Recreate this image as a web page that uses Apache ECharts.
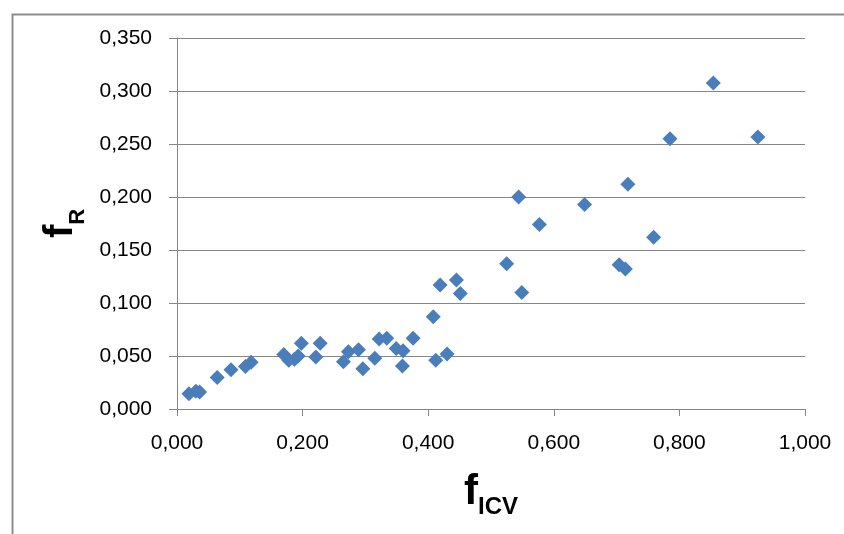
<!DOCTYPE html>
<html><head><meta charset="utf-8">
<script src="https://cdn.jsdelivr.net/npm/echarts@6/dist/echarts.min.js"></script>
<style>html,body{margin:0;padding:0;background:#fff}#c{width:844px;height:534px}</style>
</head><body><div id="c"></div>
<script>
const fICV = [0.019,0.030,0.036,0.064,0.086,0.109,0.118,0.170,0.178,0.187,0.193,0.198,0.221,0.228,0.265,0.273,0.289,0.296,0.315,0.322,0.334,0.349,0.360,0.359,0.376,0.408,0.412,0.419,0.430,0.445,0.451,0.525,0.544,0.549,0.577,0.649,0.704,0.714,0.718,0.759,0.785,0.854,0.925];
const fR   = [0.0145,0.0167,0.016,0.0296,0.037,0.040,0.044,0.0515,0.046,0.047,0.050,0.062,0.049,0.062,0.0446,0.054,0.056,0.038,0.0478,0.066,0.0667,0.057,0.055,0.0406,0.0667,0.087,0.046,0.117,0.052,0.1217,0.109,0.137,0.200,0.110,0.174,0.193,0.136,0.132,0.212,0.162,0.255,0.3075,0.2566];
const xTickLabels = ['0,000','0,200','0,400','0,600','0,800','1,000'];
const yTickLabels = ['0,000','0,050','0,100','0,150','0,200','0,250','0,300','0,350'];

const points = fICV.map((x, i) => [x, fR[i]]);
const gridColor = '#868686';
const labelFont = 'Liberation Sans';

const chart = echarts.init(document.getElementById('c'), null, {renderer: 'canvas'});
chart.setOption({
  animation: false,
  backgroundColor: '#fff',
  grid: {left: 177, right: 39, top: 38, bottom: 125, containLabel: false},
  graphic: [{
    type: 'rect', left: 10, top: 12, z: -10,
    shape: {width: 900, height: 600},
    style: {fill: 'none', stroke: '#8c8c8c', lineWidth: 2}
  }],
  xAxis: {
    type: 'value', min: 0, max: 1, interval: 0.2,
    name: '{f|f}{s|ICV}', nameLocation: 'middle', nameGap: 62,
    nameTextStyle: {
      rich: {
        f: {fontFamily: labelFont, fontWeight: 'bold', fontSize: 42, color: '#000', verticalAlign: 'bottom', padding: [0, 0, 6, 0]},
        s: {fontFamily: labelFont, fontWeight: 'bold', fontSize: 24, color: '#000', verticalAlign: 'bottom'}
      }
    },
    axisLine: {show: true, lineStyle: {color: gridColor, width: 1}},
    axisTick: {show: true, length: 7, lineStyle: {color: gridColor}},
    splitLine: {show: false},
    axisLabel: {
      fontFamily: labelFont, fontSize: 21, color: '#000', margin: 24,
      formatter: v => xTickLabels[Math.round(v / 0.2)]
    }
  },
  yAxis: {
    type: 'value', min: 0, max: 0.35, interval: 0.05,
    name: '{f|f}{s|R}', nameLocation: 'middle', nameGap: 80, nameRotate: 90,
    nameTextStyle: {
      rich: {
        f: {fontFamily: labelFont, fontWeight: 'bold', fontSize: 40, color: '#000', verticalAlign: 'bottom', padding: [0, 0, 8, 0]},
        s: {fontFamily: labelFont, fontWeight: 'bold', fontSize: 22, color: '#000', verticalAlign: 'bottom'}
      }
    },
    axisLine: {show: true, lineStyle: {color: gridColor, width: 1}},
    axisTick: {show: true, length: 8, lineStyle: {color: gridColor}},
    splitLine: {show: true, lineStyle: {color: gridColor, width: 1}},
    axisLabel: {
      fontFamily: labelFont, fontSize: 21, color: '#000', margin: 25,
      formatter: v => yTickLabels[Math.round(v / 0.05)]
    }
  },
  series: [{
    type: 'scatter',
    data: points,
    symbol: 'diamond',
    symbolSize: 15,
    itemStyle: {color: '#4a7ebb', opacity: 1}
  }]
});
</script>
</body></html>
